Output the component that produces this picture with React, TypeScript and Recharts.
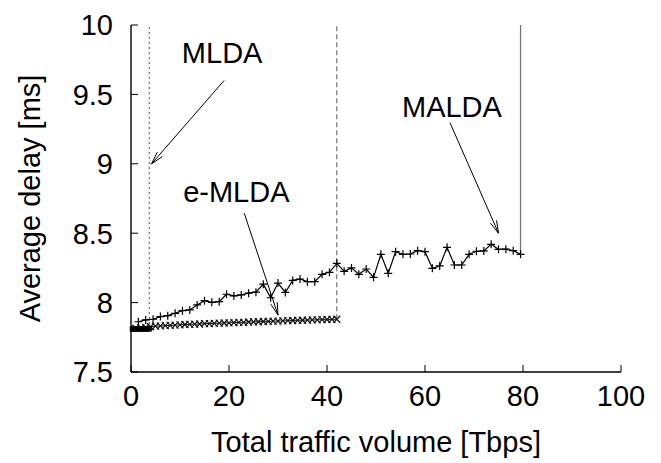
import React from 'react';
import { LineChart, Line, XAxis, YAxis, ReferenceLine, ReferenceDot } from 'recharts';

// MALDA: average delay per traffic volume (step 1.5 Tbps)
const maldaX = [
  1.5, 3, 4.5, 6, 7.5, 9, 10.5, 12, 13.5, 15, 16.5, 18, 19.5, 21, 22.5, 24, 25.5, 27,
  28.5, 30, 31.5, 33, 34.5, 36, 37.5, 39, 40.5, 42, 43.5, 45, 46.5, 48, 49.5, 51, 52.5,
  54, 55.5, 57, 58.5, 60, 61.5, 63, 64.5, 66, 67.5, 69, 70.5, 72, 73.5, 75, 76.5, 78, 79.5,
];
const maldaY = [
  7.862, 7.875, 7.88, 7.899, 7.906, 7.923, 7.942, 7.947, 7.983, 8.014, 8.002, 8.007,
  8.06, 8.048, 8.055, 8.068, 8.075, 8.133, 8.035, 8.141, 8.073, 8.16, 8.17, 8.151,
  8.151, 8.204, 8.218, 8.283, 8.225, 8.25, 8.204, 8.242, 8.182, 8.348, 8.211, 8.367,
  8.348, 8.35, 8.374, 8.367, 8.247, 8.264, 8.398, 8.271, 8.271, 8.348, 8.37, 8.372,
  8.42, 8.384, 8.385, 8.374, 8.348,
];

// e-MLDA
const emldaX = [
  1, 2, 3, 4, 5, 6, 7, 8, 9, 10, 11, 12, 13, 14, 15, 16, 17, 18, 19, 20, 21,
  22, 23, 24, 25, 26, 27, 28, 29, 30, 31, 32, 33, 34, 35, 36, 37, 38, 39, 40, 41, 42,
];
const emldaY = [
  7.815, 7.818, 7.822, 7.826, 7.83, 7.832, 7.834, 7.836, 7.838, 7.84, 7.842, 7.843,
  7.845, 7.846, 7.848, 7.849, 7.85, 7.852, 7.853, 7.854, 7.856, 7.857, 7.858, 7.86,
  7.861, 7.862, 7.864, 7.865, 7.866, 7.867, 7.868, 7.87, 7.871, 7.872, 7.873, 7.874,
  7.875, 7.876, 7.877, 7.878, 7.879, 7.88,
];

// MLDA
const mldaX = [0.25, 0.5, 0.75, 1, 1.25, 1.5, 1.75, 2, 2.25, 2.5, 2.75, 3, 3.25, 3.5, 3.75];
const mldaY = [7.81, 7.81, 7.81, 7.81, 7.81, 7.81, 7.81, 7.81, 7.81, 7.81, 7.81, 7.81, 7.81, 7.81, 7.81];

const xTicks = [0, 20, 40, 60, 80, 100];
const yTicks = [7.5, 8, 8.5, 9, 9.5, 10];

const malda = maldaX.map((x, i) => ({ x, y: maldaY[i] }));
const emlda = emldaX.map((x, i) => ({ x, y: emldaY[i] }));
const mlda = mldaX.map((x, i) => ({ x, y: mldaY[i] }));

const FONT = '"Liberation Sans", Arial, Helvetica, sans-serif';
const FS = 29;

const BottomTick = (p: any) => (
  <g>
    <line x1={p.x} x2={p.x} y1={p.y} y2={p.y - 7} stroke="#000" />
    <text x={p.x} y={p.y + 34} textAnchor="middle" fontSize={FS} fontFamily={FONT} fill="#000">
      {p.payload.value}
    </text>
  </g>
);
const TopTick = (p: any) => <line x1={p.x} x2={p.x} y1={p.y} y2={p.y + 7} stroke="#000" />;
const LeftTick = (p: any) => (
  <g>
    <line x1={p.x} x2={p.x + 7} y1={p.y} y2={p.y} stroke="#000" />
    <text x={p.x - 18} y={p.y} dy="0.36em" textAnchor="end" fontSize={FS} fontFamily={FONT} fill="#000">
      {p.payload.value}
    </text>
  </g>
);
const RightTick = (p: any) => <line x1={p.x} x2={p.x - 7} y1={p.y} y2={p.y} stroke="#000" />;

const plus = (p: any) => (
  <path key={'p' + p.index} d={`M${p.cx - 4},${p.cy}H${p.cx + 4}M${p.cx},${p.cy - 4}V${p.cy + 4}`} stroke="#000" strokeWidth={1.2} />
);
const cross = (p: any) => (
  <path key={'c' + p.index} d={`M${p.cx - 3.5},${p.cy - 3.5}L${p.cx + 3.5},${p.cy + 3.5}M${p.cx + 3.5},${p.cy - 3.5}L${p.cx - 3.5},${p.cy + 3.5}`} stroke="#111" strokeWidth={1.2} />
);
const square = (p: any) => <rect key={'s' + p.index} x={p.cx - 2.5} y={p.cy - 2.5} width={5} height={5} fill="#000" />;

const arrow = (p: any) => {
  const { x1, y1, x2, y2 } = p;
  const a = Math.atan2(y2 - y1, x2 - x1);
  const L = 13;
  const s = 0.26;
  const h1x = x2 - L * Math.cos(a - s);
  const h1y = y2 - L * Math.sin(a - s);
  const h2x = x2 - L * Math.cos(a + s);
  const h2y = y2 - L * Math.sin(a + s);
  return (
    <g>
      <line x1={x1} y1={y1} x2={x2} y2={y2} stroke="#000" strokeWidth={1} />
      <path d={`M${h1x},${h1y}L${x2},${y2}L${h2x},${h2y}`} fill="none" stroke="#000" strokeWidth={1} />
    </g>
  );
};

const note = (t: string) => (p: any) => (
  <text x={p.cx} y={p.cy} dy="0.36em" textAnchor="middle" fontSize={FS} fontFamily={FONT} fill="#000">
    {t}
  </text>
);

export default function App() {
  return (
    <div style={{ position: 'absolute', left: 0, top: 0, background: '#fff' }}>
      <LineChart width={661} height={463} margin={{ top: 25, right: 40, bottom: 0, left: 0 }}>
        <XAxis
          dataKey="x"
          type="number"
          domain={[0, 100]}
          ticks={xTicks}
          height={91}
          tickSize={0}
          tickMargin={0}
          tickLine={false}
          tick={<BottomTick />}
          axisLine={{ stroke: '#000', strokeWidth: 1.4 }}
          label={{
            content: (p: any) => (
              <text x={p.viewBox.x + p.viewBox.width / 2} y={p.viewBox.y + 80} textAnchor="middle" fontSize={FS} fontFamily={FONT} fill="#000">
                Total traffic volume [Tbps]
              </text>
            ),
          }}
        />
        <XAxis
          xAxisId="top"
          orientation="top"
          dataKey="x"
          type="number"
          domain={[0, 100]}
          ticks={xTicks}
          height={0}
          tickSize={0}
          tickMargin={0}
          tickLine={false}
          tick={<TopTick />}
          axisLine={{ stroke: '#000', strokeWidth: 1.4 }}
        />
        <YAxis
          type="number"
          domain={[7.5, 10]}
          ticks={yTicks}
          width={131}
          tickSize={0}
          tickMargin={0}
          tickLine={false}
          tick={<LeftTick />}
          axisLine={{ stroke: '#000', strokeWidth: 1.4 }}
          label={{
            content: (p: any) => {
              const cx = p.viewBox.x + 30;
              const cy = p.viewBox.y + p.viewBox.height / 2;
              return (
                <text x={cx} y={cy} dy="0.36em" transform={`rotate(-90 ${cx} ${cy})`} textAnchor="middle" fontSize={FS} fontFamily={FONT} fill="#000">
                  Average delay [ms]
                </text>
              );
            },
          }}
        />
        <YAxis
          yAxisId="right"
          orientation="right"
          type="number"
          domain={[7.5, 10]}
          ticks={yTicks}
          width={0}
          tickSize={0}
          tickMargin={0}
          tickLine={false}
          tick={<RightTick />}
          axisLine={{ stroke: '#000', strokeWidth: 1.4 }}
        />

        <ReferenceLine segment={[{ x: 3.75, y: 7.81 }, { x: 3.75, y: 10 }]} stroke="#777" strokeDasharray="2 3" strokeWidth={1.3} />
        <ReferenceLine segment={[{ x: 42, y: 7.88 }, { x: 42, y: 10 }]} stroke="#555" strokeDasharray="5 3" strokeWidth={1} />
        <ReferenceLine segment={[{ x: 79.5, y: 8.348 }, { x: 79.5, y: 10 }]} stroke="#777" strokeWidth={1.3} />

        <Line data={emlda} dataKey="y" stroke="#222" strokeWidth={1} dot={cross} isAnimationActive={false} />
        <Line data={malda} dataKey="y" stroke="#000" strokeWidth={1.2} dot={plus} isAnimationActive={false} />
        <Line data={mlda} dataKey="y" stroke="#000" strokeWidth={1} dot={square} isAnimationActive={false} />

        <ReferenceLine segment={[{ x: 19, y: 9.6 }, { x: 4.2, y: 9.0 }]} shape={arrow} />
        <ReferenceLine segment={[{ x: 23.1, y: 8.645 }, { x: 30, y: 7.91 }]} shape={arrow} />
        <ReferenceLine segment={[{ x: 65.1, y: 9.296 }, { x: 75, y: 8.5 }]} shape={arrow} />

        <ReferenceDot x={18.6} y={9.8} r={0} shape={note('MLDA')} />
        <ReferenceDot x={21.5} y={8.8} r={0} shape={note('e-MLDA')} />
        <ReferenceDot x={65.5} y={9.41} r={0} shape={note('MALDA')} />
      </LineChart>
    </div>
  );
}
